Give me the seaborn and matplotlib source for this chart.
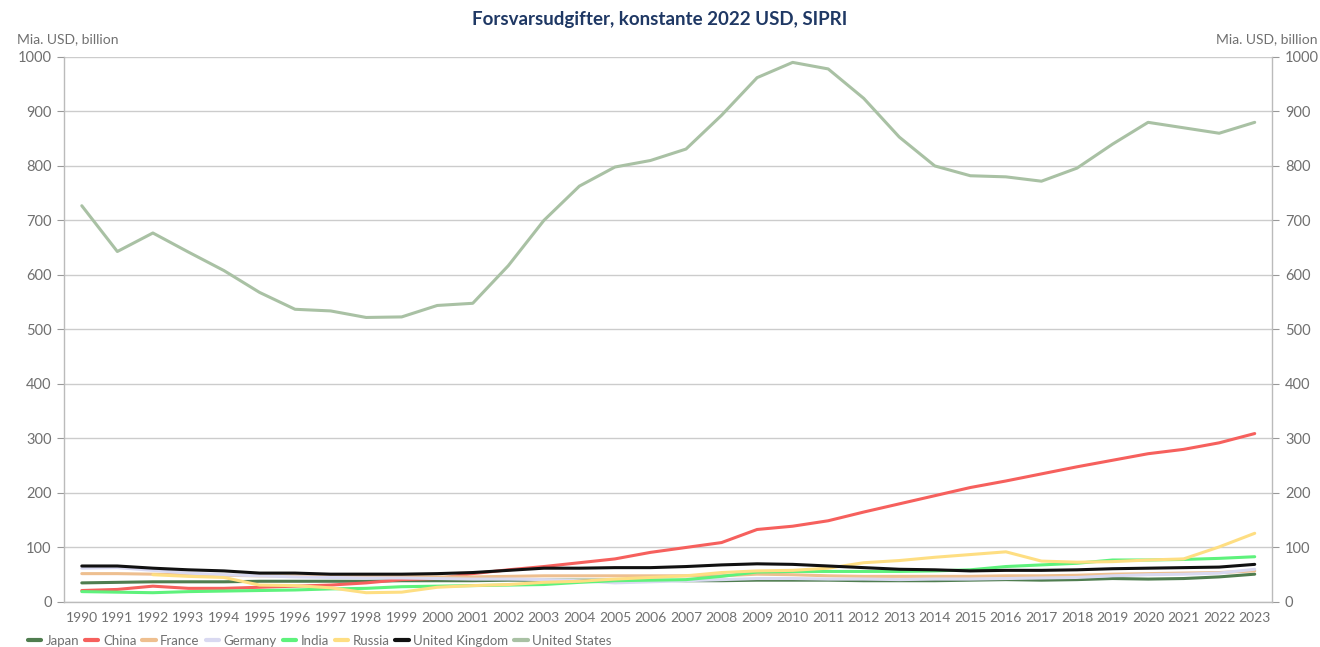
import numpy as np
import pandas as pd
import matplotlib
matplotlib.use("Agg")
import matplotlib.pyplot as plt
import seaborn as sns
from matplotlib.ticker import FixedLocator
from matplotlib.lines import Line2D

years = list(range(1990, 2024))

japan = [35, 36, 37, 37, 37, 38, 38, 38, 38, 39, 39, 39, 40, 40, 40, 40, 40, 39, 39, 40,
         40, 40, 39, 39, 39, 40, 41, 40, 41, 43, 42, 43, 46, 51]
china = [21, 23, 29, 25, 25, 27, 29, 31, 35, 41, 43, 52, 59, 65, 72, 79, 91, 100, 109, 133,
         139, 149, 165, 180, 195, 210, 222, 235, 248, 260, 272, 280, 292, 309]
france = [52, 52, 51, 50, 49, 48, 48, 47, 47, 47, 46, 46, 47, 48, 48, 48, 48, 48, 48, 51,
          50, 48, 47, 47, 47, 47, 48, 48, 49, 51, 52, 53, 54, 57]
germany = [62, 63, 58, 53, 50, 48, 46, 45, 44, 44, 43, 42, 42, 41, 39, 35, 37, 39, 41, 43,
           43, 42, 42, 41, 42, 42, 43, 44, 45, 48, 50, 51, 53, 60]
india = [19, 18, 17, 19, 20, 21, 22, 24, 25, 28, 29, 30, 31, 32, 36, 39, 40, 41, 47, 55,
         56, 56, 56, 56, 57, 59, 65, 68, 71, 77, 77, 78, 80, 83]
russia = [np.nan, np.nan, 50, 47, 45, 31, 30, 26, 17, 18, 27, 30, 32, 36, 38, 42, 45, 48, 54, 57,
          58, 62, 72, 76, 82, 87, 92, 75, 73, 74, 77, 79, 101, 126]
uk = [66, 66, 62, 59, 57, 53, 53, 51, 51, 51, 52, 54, 58, 62, 62, 63, 63, 65, 68, 70,
      69, 66, 63, 60, 59, 57, 58, 58, 59, 61, 62, 63, 64, 69]
usa = [727, 643, 677, 642, 608, 568, 537, 534, 522, 523, 544, 548, 617, 700, 763, 798, 810, 831, 893, 962,
       990, 978, 924, 853, 800, 782, 780, 772, 796, 840, 880, 870, 860, 880]

countries = ["Japan", "China", "France", "Germany", "India", "Russia", "United Kingdom", "United States"]
series = [japan, china, france, germany, india, russia, uk, usa]
colors = ["#4f7d4f", "#f6605d", "#eebf8f", "#d9d9f1", "#5ef27c", "#fede82", "#111111", "#a9c1a4"]

rows = []
for c, vals in zip(countries, series):
    for i, (y, v) in enumerate(zip(years, vals)):
        rows.append({"idx": i, "year": y, "country": c, "value": v})
df = pd.DataFrame(rows)

sns.set_style("white")
plt.rcParams['font.family'] = ['Lato', 'DejaVu Sans']

fig = plt.figure(figsize=(13.2, 6.47), dpi=100)
ax = fig.add_axes([0.0485, 0.0696, 0.9155, 0.8424])

sns.lineplot(data=df, x="idx", y="value", hue="country", hue_order=countries,
             palette=dict(zip(countries, colors)), linewidth=2.2, ax=ax, legend=False,
             sort=True)

ax.set_xlim(-0.5, len(years) - 0.5)
ax.set_ylim(0, 1000)
ax.set_yticks(range(0, 1001, 100))
ax.yaxis.grid(True, color="#cccccc", linewidth=1)
ax.set_axisbelow(True)

ax.set_xticks(range(len(years)))
ax.set_xticklabels([str(y) for y in years])
ax.xaxis.set_minor_locator(FixedLocator(np.arange(-0.5, len(years), 1)))
ax.tick_params(axis="x", which="major", length=0, pad=7, labelsize=10, labelcolor="#707070")
ax.tick_params(axis="x", which="minor", length=5, color="#999999", width=1)
ax.tick_params(axis="y", left=True, right=True, labelleft=True, labelright=True,
               length=5, color="#999999", labelsize=10.5, labelcolor="#707070", pad=4)

for s in ["left", "right", "bottom"]:
    ax.spines[s].set_color("#bbbbbb")
    ax.spines[s].set_linewidth(1)
ax.spines["top"].set_visible(False)
ax.set_xlabel("")
ax.set_ylabel("")

fig.text(0.5, 0.97, "Forsvarsudgifter, konstante 2022 USD, SIPRI", ha="center", va="center",
         fontsize=13.5, fontweight="bold", color="#1f3864")
fig.text(0.013, 0.94, "Mia. USD, billion", ha="left", va="center", fontsize=10, color="#707070")
fig.text(0.998, 0.94, "Mia. USD, billion", ha="right", va="center", fontsize=10, color="#707070")

handles = [Line2D([0], [0], color=c, lw=3) for c in colors]
fig.legend(handles, countries, loc="lower left", bbox_to_anchor=(0.012, -0.018), ncol=8,
           frameon=False, handlelength=1.0, handletextpad=0.35, columnspacing=0.45,
           fontsize=9.5, labelcolor="#707070")

fig.savefig("out.png", dpi=100)
